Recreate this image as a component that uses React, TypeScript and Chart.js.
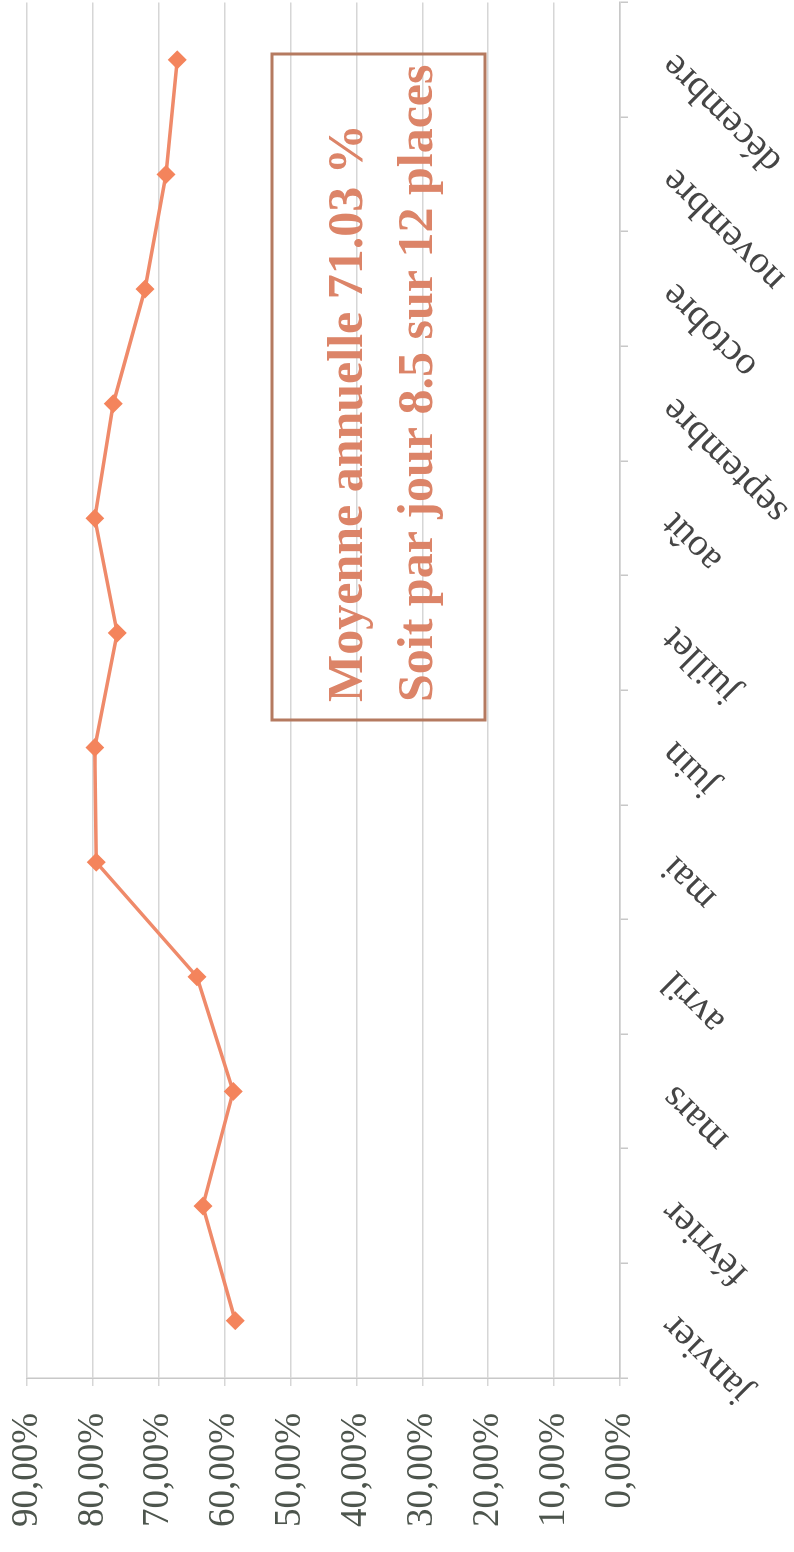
import React, { useEffect, useRef } from 'react';
import { Chart, registerables } from 'chart.js';

Chart.register(...registerables);

const months = ['janvier', 'février', 'mars', 'avril', 'mai', 'juin', 'juillet', 'août', 'septembre', 'octobre', 'novembre', 'décembre'];
const occupancy = [58.4, 63.3, 58.7, 64.2, 79.5, 79.7, 76.3, 79.7, 76.9, 72.1, 68.9, 67.2];
const valueMin = 0;
const valueMax = 90;
const valueStep = 10;
const noteLines = ['Moyenne annuelle 71.03 %', 'Soit par jour 8.5 sur 12 places'];

const PAGE_W = 794;
const PAGE_H = 1552;
const W = 1560;
const H = 794;
const SERIF = '"Liberation Serif", "DejaVu Serif", serif';

const notePlugin = {
  id: 'noteBox',
  afterDraw(chart: any) {
    const ctx = chart.ctx;
    ctx.save();
    ctx.strokeStyle = '#b57a60';
    ctx.lineWidth = 3;
    ctx.strokeRect(832, 272, 666, 213);
    ctx.fillStyle = '#dc8468';
    ctx.font = 'bold 50px ' + SERIF;
    ctx.textBaseline = 'alphabetic';
    ctx.textAlign = 'left';
    ctx.fillText(noteLines[0], 850, 362);
    ctx.fillText(noteLines[1], 850, 432);
    ctx.restore();
  },
};

export default function App() {
  const ref = useRef<HTMLCanvasElement | null>(null);

  useEffect(() => {
    if (!ref.current) return;
    const chart = new Chart(ref.current, {
      type: 'line',
      data: {
        labels: months,
        datasets: [
          {
            data: occupancy,
            borderColor: '#ef8a6a',
            borderWidth: 3.5,
            tension: 0,
            pointStyle: 'rectRot',
            pointRadius: 7,
            pointBackgroundColor: '#f4845c',
            pointBorderColor: '#f4845c',
            fill: false,
          },
        ],
      },
      options: {
        animation: false,
        responsive: false,
        devicePixelRatio: 1,
        layout: { padding: { top: 27, right: 0, left: 0, bottom: 0 } },
        plugins: { legend: { display: false }, tooltip: { enabled: false } },
        scales: {
          x: {
            type: 'category',
            offset: true,
            grid: {
              display: true,
              drawOnChartArea: false,
              drawTicks: true,
              tickLength: 8,
              offset: true,
              color: '#c8c8c8',
              lineWidth: 1.5,
            },
            border: { display: true, color: '#c8c8c8', width: 1.5 },
            ticks: {
              minRotation: 45,
              maxRotation: 45,
              autoSkip: false,
              padding: 24,
              font: { family: SERIF, size: 39 },
              color: '#454545',
            },
            afterFit: (s: any) => {
              s.height = 174;
              s.paddingLeft = 0;
              s.paddingRight = 0;
            },
          },
          y: {
            min: valueMin,
            max: valueMax,
            ticks: {
              stepSize: valueStep,
              padding: 27,
              callback: (v: any) => Number(v).toFixed(2).replace('.', ',') + '%',
              font: { family: SERIF, size: 37 },
              color: '#4d554d',
            },
            grid: { color: '#d6d6d6', lineWidth: 1.5, tickLength: 8 },
            border: { display: true, color: '#c8c8c8', width: 1.5 },
            afterFit: (s: any) => {
              s.width = 174;
              s.paddingTop = 0;
              s.paddingBottom = 0;
            },
          },
        },
      },
      plugins: [notePlugin],
    });
    return () => chart.destroy();
  }, []);

  return (
    <div style={{ position: 'absolute', left: 0, top: 0, width: PAGE_W, height: PAGE_H, overflow: 'hidden', background: '#fff' }}>
      <div
        style={{
          position: 'absolute',
          left: 0,
          top: 0,
          width: W,
          height: H,
          transformOrigin: '0 0',
          transform: `translate(0px, ${PAGE_H}px) rotate(-90deg)`,
        }}
      >
        <canvas ref={ref} width={W} height={H} style={{ display: 'block', width: W, height: H }} />
      </div>
    </div>
  );
}
